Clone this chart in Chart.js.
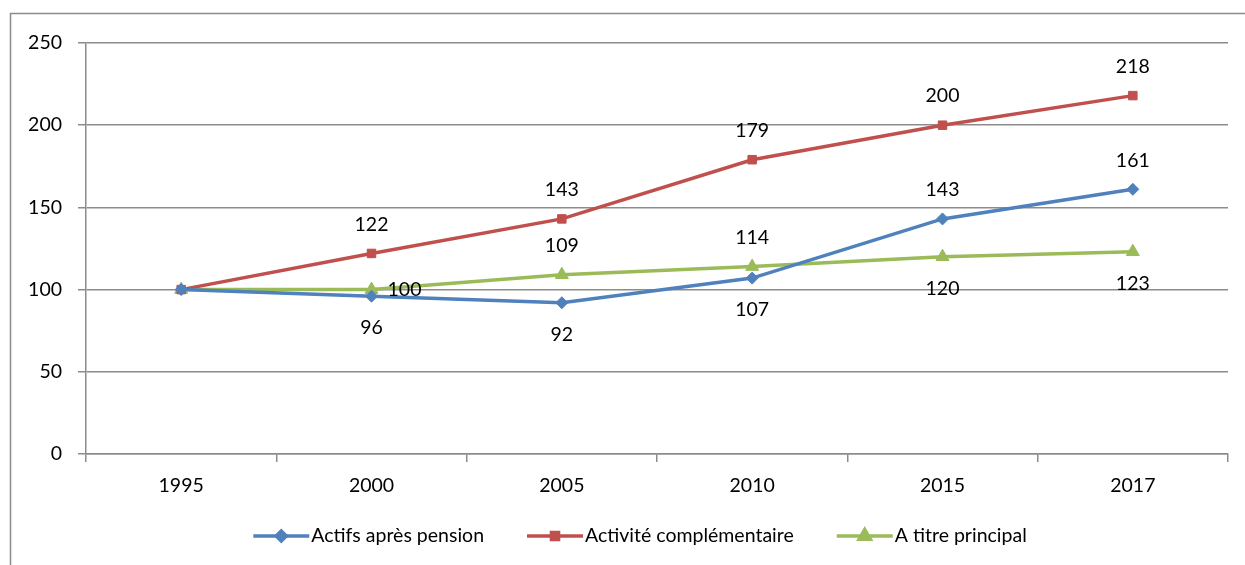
<!DOCTYPE html>
<html>
<head>
<meta charset="utf-8">
<script src="https://cdn.jsdelivr.net/npm/chart.js@4/dist/chart.umd.min.js"></script>
<style>
  html, body { margin: 0; padding: 0; background: #fff; }
  #wrap { width: 1245px; height: 565px; position: relative; }
</style>
</head>
<body>
<div id="wrap"><canvas id="chart" width="1245" height="565"></canvas></div>
<script>
// categories and series values
const years = ['1995', '2000', '2005', '2010', '2015', '2017'];
const actifsApresPension = [100, 96, 92, 107, 143, 161];
const activiteComplementaire = [100, 122, 143, 179, 200, 218];
const aTitrePrincipal = [100, 100, 109, 114, 120, 123];
const seriesNames = ['Actifs après pension', 'Activité complémentaire', 'A titre principal'];

// where each value label sits relative to its point (null = no label)
const labelPlacement = [
  [null, 'below', 'below', 'below', 'above', 'above'],
  [null, 'above', 'above', 'above', 'above', 'above'],
  [null, 'right', 'above', 'above', 'below', 'below']
];

const FONT = 'Lato, "Liberation Sans", sans-serif';
const FONT_SIZE = 19.5;
const blue = '#4F81BD';
const red = '#C0504D';
const green = '#9BBB59';
const gridColor = '#8c8c8c';

// frame around the whole chart (only left/top are visible in the picture)
const framePlugin = {
  id: 'frame',
  beforeDraw(chart) {
    const ctx = chart.ctx;
    ctx.save();
    ctx.strokeStyle = '#8c8c8c';
    ctx.lineWidth = 1.5;
    ctx.beginPath();
    ctx.moveTo(10.5, 600);
    ctx.lineTo(10.5, 13.5);
    ctx.lineTo(1260, 13.5);
    ctx.stroke();
    ctx.restore();
  }
};

// value labels next to the points
const valueLabels = {
  id: 'valueLabels',
  afterDatasetsDraw(chart) {
    const ctx = chart.ctx;
    ctx.save();
    ctx.font = FONT_SIZE + 'px ' + FONT;
    ctx.fillStyle = '#000';
    ctx.textAlign = 'center';
    ctx.textBaseline = 'middle';
    chart.data.datasets.forEach((ds, i) => {
      const meta = chart.getDatasetMeta(i);
      meta.data.forEach((pt, j) => {
        const where = labelPlacement[i][j];
        if (!where) return;
        let x = pt.x, y = pt.y;
        if (where === 'above') y -= 29;
        if (where === 'below') y += 32;
        if (where === 'right') x += 33;
        ctx.fillText(String(ds.data[j]), x, y);
      });
    });
    ctx.restore();
  }
};

// legend at the bottom: line + marker + text
const bottomLegend = {
  id: 'bottomLegend',
  afterDraw(chart) {
    const ctx = chart.ctx;
    ctx.save();
    ctx.font = FONT_SIZE + 'px ' + FONT;
    ctx.textBaseline = 'middle';
    const lineLen = 56, gapText = 2, gapItem = 43;
    const items = chart.data.datasets.map(ds => ({ ds, w: ctx.measureText(ds.label).width }));
    const total = items.reduce((s, it) => s + lineLen + gapText + it.w, 0) + gapItem * (items.length - 1);
    let x = 640 - total / 2;
    const y = 536;
    items.forEach(it => {
      const ds = it.ds;
      ctx.strokeStyle = ds.borderColor;
      ctx.lineWidth = 3.5;
      ctx.beginPath();
      ctx.moveTo(x, y);
      ctx.lineTo(x + lineLen, y);
      ctx.stroke();
      ctx.fillStyle = ds.borderColor;
      Chart.helpers.drawPoint(ctx, {
        pointStyle: ds.pointStyle,
        radius: ds.pointRadius - 1,
        borderWidth: 1
      }, x + lineLen / 2, y);
      ctx.fillStyle = '#000';
      ctx.textAlign = 'left';
      ctx.fillText(ds.label, x + lineLen + gapText, y);
      x += lineLen + gapText + it.w + gapItem;
    });
    ctx.restore();
  }
};

function makeSet(label, data, color, style, radius) {
  return {
    label: label,
    data: data,
    borderColor: color,
    backgroundColor: color,
    borderWidth: 3.5,
    pointStyle: style,
    pointRadius: radius,
    pointBackgroundColor: color,
    pointBorderColor: color,
    pointBorderWidth: 1,
    tension: 0
  };
}

new Chart(document.getElementById('chart'), {
  type: 'line',
  data: {
    labels: years,
    datasets: [
      makeSet(seriesNames[0], actifsApresPension, blue, 'rectRot', 6),
      makeSet(seriesNames[1], activiteComplementaire, red, 'rect', 6),
      makeSet(seriesNames[2], aTitrePrincipal, green, 'triangle', 7.5)
    ]
  },
  options: {
    responsive: false,
    animation: false,
    layout: { padding: { left: 0, right: 17, top: 43, bottom: 61 } },
    plugins: {
      legend: { display: false },
      tooltip: { enabled: false }
    },
    scales: {
      x: {
        offset: true,
        grid: {
          offset: true,
          drawOnChartArea: false,
          drawTicks: true,
          tickLength: 8,
          color: gridColor,
          lineWidth: 1.5
        },
        border: { color: gridColor, width: 1.5 },
        ticks: { color: '#000', font: { family: FONT, size: FONT_SIZE }, padding: 12 },
        afterFit(scale) { scale.height = 50; }
      },
      y: {
        min: 0,
        max: 250,
        ticks: { stepSize: 50, color: '#000', font: { family: FONT, size: FONT_SIZE }, padding: 16 },
        grid: { color: gridColor, lineWidth: 1.5, tickLength: 8 },
        border: { color: gridColor, width: 1.5 },
        afterFit(scale) { scale.width = 86; }
      }
    }
  },
  plugins: [framePlugin, valueLabels, bottomLegend]
});
</script>
</body>
</html>
